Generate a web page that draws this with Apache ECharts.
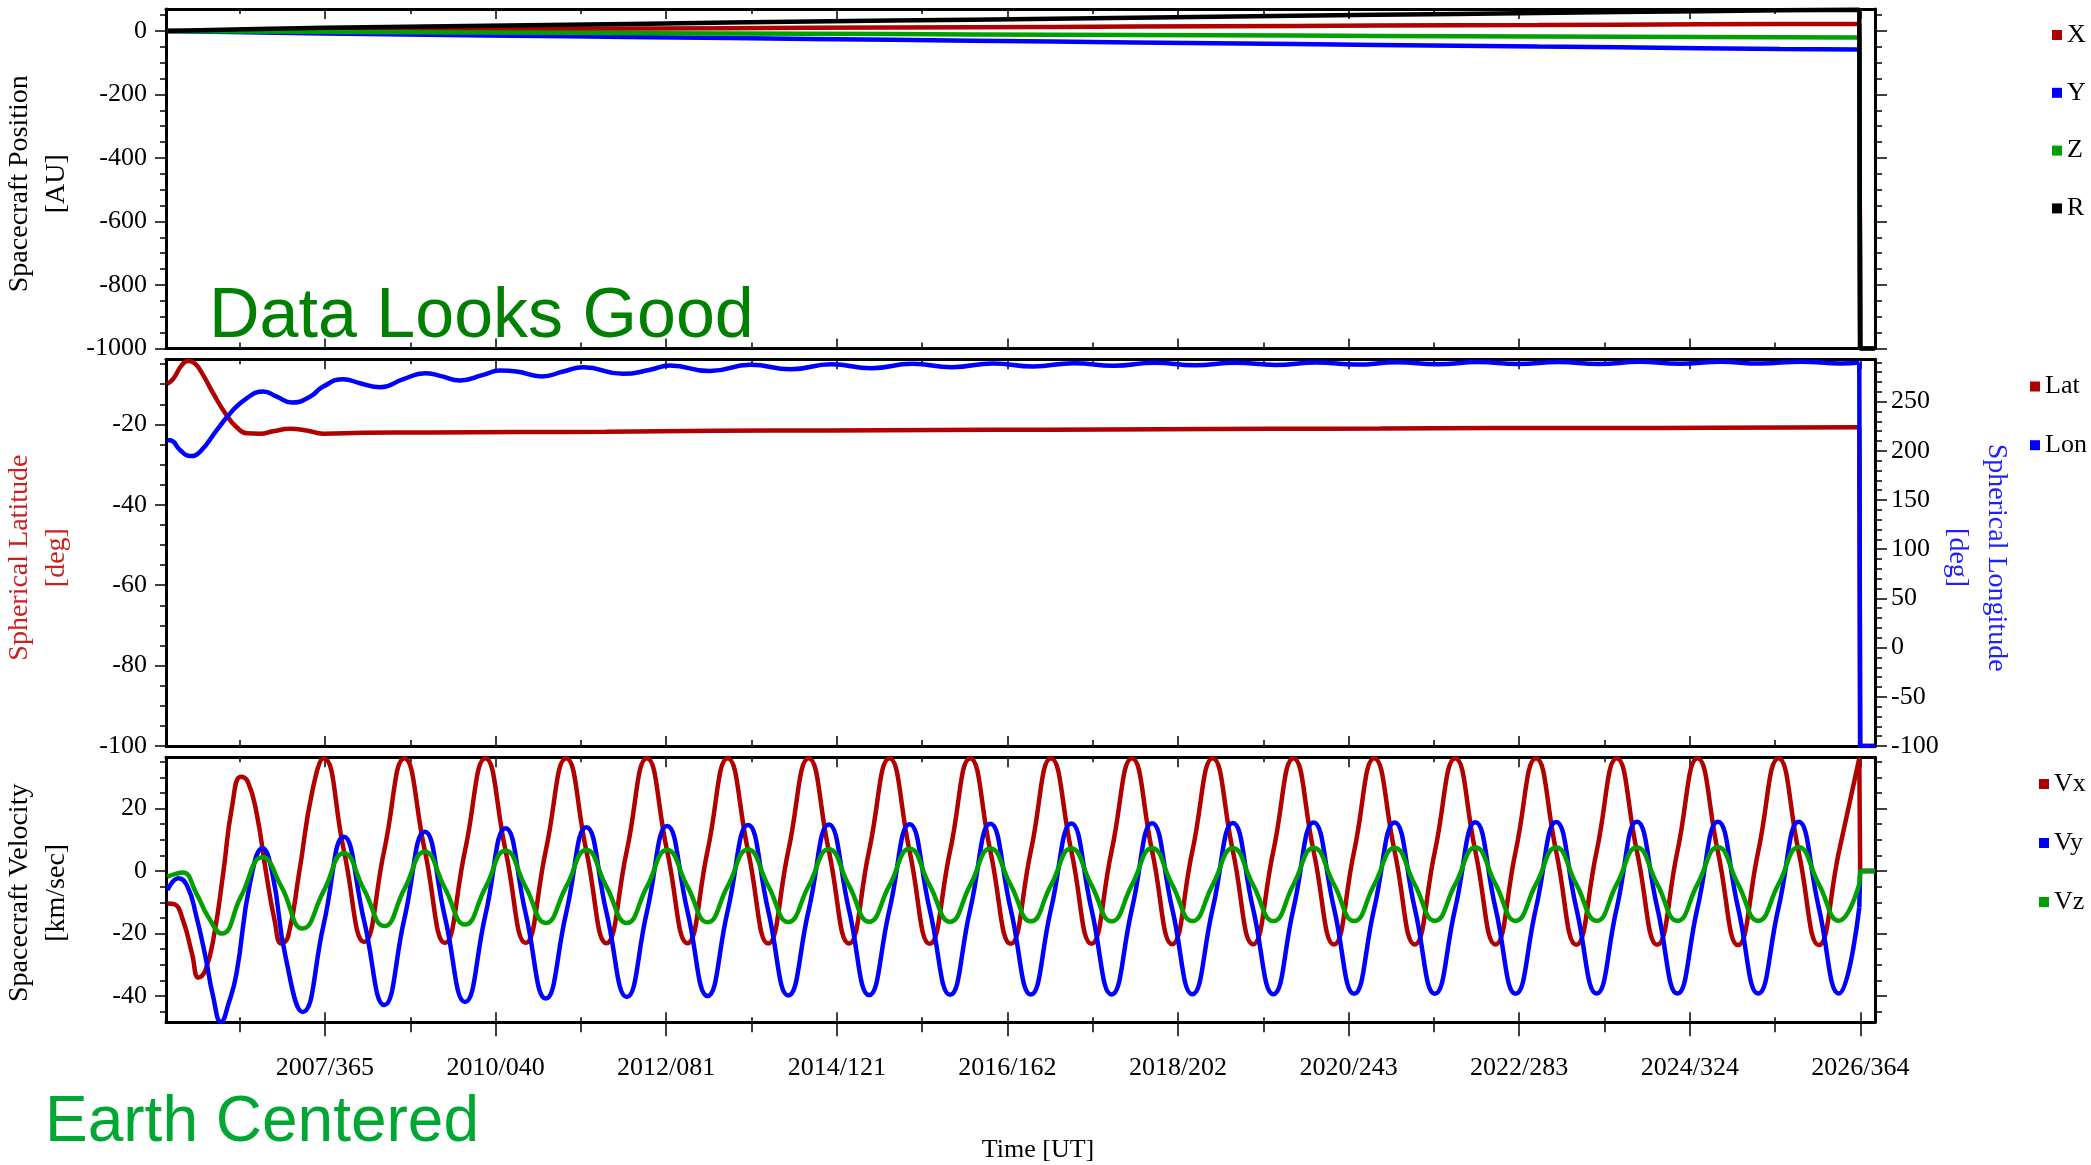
<!DOCTYPE html>
<html><head><meta charset="utf-8">
<script src="https://cdn.jsdelivr.net/npm/echarts@6.0.0/dist/echarts.min.js"></script>
<style>html,body{margin:0;padding:0;background:#fff;}#c{width:2091px;height:1165px;}</style>
</head><body><div id="c"></div>
<script>
// ---------- time axis (days since 2006-01-01) ----------
const timeTickDays = [729, 1500, 2271, 3042, 3813, 4584, 5355, 6126, 6897, 7668];
const timeLabels = ['2007/365','2010/040','2012/081','2014/121','2016/162','2018/202','2020/243','2022/283','2024/324','2026/364'];
const timeMinorDays = [343.5, 1114.5, 1885.5, 2656.5, 3427.5, 4198.5, 4969.5, 5740.5, 6511.5, 7282.5];

// ---------- y tick values ----------
const posTicks = [-1000, -800, -600, -400, -200, 0];
const latTicks = [-100, -80, -60, -40, -20];
const lonTicks = [-100, -50, 0, 50, 100, 150, 200, 250];
const velTicks = [-40, -20, 0, 20];

// ---------- panel 1: position [AU] ----------
const posDays = [17, 365, 730, 1096, 1461, 1826, 2191, 2557, 2922, 3287, 3652, 4018, 4383, 4748, 5113, 5479, 5844, 6209, 6574, 6940, 7305, 7663];
const posX = [0, 1.6, 3.2, 4.3, 5.4, 6.5, 7.6, 8.6, 9.7, 10.7, 11.7, 12.7, 13.7, 14.7, 15.7, 16.7, 17.7, 18.6, 19.6, 20.6, 21.5, 22.1];
const posY = [0, -4.3, -8.4, -11.2, -14.2, -17.1, -19.9, -22.7, -25.5, -28.2, -30.9, -33.6, -36.2, -38.8, -41.4, -44.0, -46.5, -49.2, -51.7, -54.2, -56.7, -58.3];
const posZ = [0, -1.6, -3.0, -4.0, -5.1, -6.1, -7.1, -8.1, -9.1, -10.0, -11.0, -12.0, -12.9, -13.8, -14.8, -15.7, -16.6, -17.5, -18.4, -19.3, -20.2, -21.0];
const posR = [0, 4.9, 9.6, 12.9, 16.3, 19.6, 22.9, 26.1, 29.3, 32.4, 35.5, 38.6, 41.6, 44.6, 47.6, 50.6, 53.5, 56.5, 59.4, 62.3, 65.2, 67.0];
const fillDays = [7667, 7734];
const posFill = [-1000, -1000];

// ---------- panel 2: spherical lat / lon [deg] ----------
const latDays = [17, 44, 81, 111, 142, 179, 224, 285, 330, 375, 435, 495, 571, 646, 721, 900, 1200, 1600, 2000, 2500, 3000, 3500, 4000, 4500, 5000, 5500, 6000, 6500, 7000, 7663];
const latVals = [-9.9, -8.6, -5.3, -4.2, -4.9, -7.8, -12.3, -17.8, -20.7, -22.2, -22.3, -21.7, -21.1, -21.5, -22.3, -22.1, -22.0, -21.9, -21.8, -21.6, -21.5, -21.4, -21.3, -21.2, -21.1, -21.0, -20.9, -20.9, -20.8, -20.7];
const lonDays = [17, 36, 74, 119, 164, 240, 300, 375, 450, 511, 579, 661, 721, 812, 887, 978, 1083, 1181, 1249, 1339, 1444, 1520, 1595, 1708, 1806, 1896, 2077, 2198, 2288, 2468, 2653, 2833, 3018, 3198, 3383, 3563, 3749, 3929, 4114, 4294, 4479, 4659, 4844, 5024, 5210, 5390, 5575, 5755, 5940, 6120, 6305, 6485, 6671, 6851, 7036, 7216, 7401, 7581, 7663];
const lonVals = [211.0, 210.3, 200.8, 194.6, 199.0, 221.0, 238.0, 253.4, 260.2, 255.1, 249.0, 255.0, 265.3, 272.8, 268.7, 264.6, 272.8, 278.9, 276.2, 271.4, 277.2, 281.6, 280.6, 275.5, 280.6, 285.0, 278.2, 282.3, 286.7, 281.0, 287.5, 282.8, 288.0, 284.0, 288.4, 285.0, 288.8, 285.8, 289.1, 286.4, 289.4, 286.9, 289.6, 287.3, 289.8, 287.6, 290.0, 287.9, 290.2, 288.1, 290.3, 288.3, 290.4, 288.5, 290.5, 288.7, 290.6, 288.8, 289.8];
const angFill = [-100, -100];

// ---------- panel 3: velocity [km/sec] ----------
const vxEarlyDays = [17, 47, 87, 128, 158, 189, 229, 269, 309, 349, 380, 420, 461, 501, 532, 562, 612, 673];
const vxEarly = [-10.4, -10.6, -15.7, -26.4, -34.1, -31.7, -20.0, -0.7, 20.6, 30.2, 28.6, 18.5, 0.3, -15.7, -23.2, -21.0, -0.7, 26.0];
const vyEarlyDays = [17, 67, 108, 146, 189, 223, 259, 295, 329, 390, 447, 491, 551, 628];
const vyEarly = [-6.1, -2.3, -5.0, -14.0, -27.5, -40.0, -48.3, -42.0, -32.8, -4.0, 7.3, -0.7, -27.5, -45.1];
const vzEarlyDays = [17, 50, 87, 148, 200, 263, 349, 447, 532, 628];
const vzEarly = [-1.8, -1.0, -0.5, -7.2, -14.5, -20.0, -8.2, 4.4, -5.0, -18.4];
const cycleDays = [723, 814, 906, 997, 1088, 1180, 1271, 1362, 1454, 1545, 1636, 1727, 1819, 1910, 2001, 2093, 2184, 2275, 2367, 2458, 2549, 2641, 2732, 2823, 2915, 3006, 3097, 3188, 3280, 3371, 3462, 3554, 3645, 3736, 3828, 3919, 4010, 4102, 4193, 4284, 4376, 4467, 4558, 4649, 4741, 4832, 4923, 5015, 5106, 5197, 5289, 5380, 5471, 5563, 5654, 5745, 5837, 5928, 6019, 6110, 6202, 6293, 6384, 6476, 6567, 6658, 6750, 6841, 6932, 7024, 7115, 7206, 7298, 7389, 7480, 7571, 7663];
const vxCycle = [
  36.1, 6.7, -22.7, 6.7,  36.1, 6.6, -23.0, 6.6,  36.1, 6.6, -23.0, 6.6,  36.1, 6.5, -23.1, 6.5,
  36.1, 6.5, -23.1, 6.5,  36.1, 6.5, -23.2, 6.5,  36.1, 6.5, -23.2, 6.5,  36.1, 6.4, -23.3, 6.4,
  36.1, 6.4, -23.3, 6.4,  36.1, 6.4, -23.3, 6.4,  36.1, 6.4, -23.4, 6.4,  36.1, 6.4, -23.4, 6.4,
  36.1, 6.3, -23.5, 6.3,  36.1, 6.3, -23.5, 6.3,  36.1, 6.3, -23.5, 6.3,  36.1, 6.3, -23.6, 6.3,
  36.1, 6.3, -23.6, 6.3,  36.1, 6.2, -23.7, 6.2,  36.1, 6.2, -23.7, 6.2,  36.1];
const vyCycle = [
  -17.1, 11.0, -16.0, -42.9,  -15.2, 12.6, -14.7, -41.9,  -14.1, 13.7, -13.6, -40.8,  -13.4, 14.0, -13.2, -40.3,
  -13.0, 14.4, -12.8, -40.0,  -12.7, 14.7, -12.6, -39.8,  -12.5, 14.9, -12.4, -39.7,  -12.4, 15.0, -12.3, -39.6,
  -12.3, 15.1, -12.2, -39.5,  -12.2, 15.2, -12.2, -39.5,  -12.1, 15.3, -12.1, -39.4,  -12.0, 15.4, -12.0, -39.4,
  -12.0, 15.5, -11.9, -39.3,  -11.9, 15.5, -11.9, -39.3,  -11.9, 15.6, -11.9, -39.3,  -11.8, 15.7, -11.8, -39.2,
  -11.8, 15.8, -11.7, -39.2,  -11.7, 15.8, -11.7, -39.2,  -11.7, 15.8, -11.7, -39.2,  -11.7];
const vzCycle = [
  -6.4, 5.7, -6.0, -17.6,  -5.7, 6.2, -5.5, -17.1,  -5.3, 6.5, -5.1, -16.6,  -5.0, 6.7, -5.0, -16.6,
  -5.0, 6.7, -4.9, -16.4,  -4.8, 6.9, -4.7, -16.3,  -4.7, 7.0, -4.6, -16.2,  -4.6, 7.1, -4.6, -16.2,
  -4.5, 7.2, -4.5, -16.1,  -4.5, 7.2, -4.5, -16.1,  -4.4, 7.3, -4.4, -16.0,  -4.4, 7.3, -4.4, -16.0,
  -4.3, 7.4, -4.3, -16.0,  -4.3, 7.4, -4.3, -15.9,  -4.2, 7.5, -4.2, -15.9,  -4.2, 7.5, -4.2, -15.9,
  -4.2, 7.5, -4.2, -15.9,  -4.2, 7.6, -4.2, -15.9,  -4.2, 7.6, -4.2, -15.9,  -4.2];
const velFill = [0, 0];

// ---------- chart construction ----------
const SERIF = '"Liberation Serif", "Times New Roman", serif';
const SANS = '"Liberation Sans", Arial, sans-serif';
const RED = '#b00000', BLUE = '#0000ff', GREEN = '#00a000', BLACK = '#000000';
const X_MIN = 10.5, X_MAX = 7734;

function zip(days, vals) { return days.map((d, i) => [d, vals[i]]); }
function minorOf(major, step, min, max) {
  const out = [];
  for (let v = Math.ceil(min / step) * step; v <= max + 1e-9; v += step) {
    if (!major.some(m => Math.abs(m - v) < 1e-9)) out.push(v);
  }
  return out;
}

const grids = [
  {left: 166, width: 1709, top: 9, height: 339.5, outerBoundsMode: 'none', containLabel: false},
  {left: 166, width: 1709, top: 359.3, height: 386.7, outerBoundsMode: 'none', containLabel: false},
  {left: 166, width: 1709, top: 757.3, height: 265, outerBoundsMode: 'none', containLabel: false}
];

function xAx(g, pos, vals, len, inside, showLine, label) {
  return {
    type: 'value', gridIndex: g, position: pos, min: X_MIN, max: X_MAX,
    axisLine: {show: showLine, onZero: false, lineStyle: {color: '#000', width: 3}},
    axisTick: {show: true, inside: inside, length: len, customValues: vals, lineStyle: {color: '#000', width: 1.5}},
    axisLabel: label ? {
      show: true, customValues: timeTickDays, margin: 33, color: '#000',
      fontFamily: SERIF, fontSize: 26,
      formatter: function (v) {
        const i = timeTickDays.findIndex(d => Math.abs(d - v) < 1e-6);
        return i < 0 ? '' : timeLabels[i];
      }
    } : {show: false},
    splitLine: {show: false}
  };
}

function yAx(g, pos, min, max, vals, len, showLine, label, nameCfg) {
  const a = {
    type: 'value', gridIndex: g, position: pos, min: min, max: max,
    axisLine: {show: showLine, onZero: false, lineStyle: {color: '#000', width: 3}},
    axisTick: {show: true, inside: false, length: len, customValues: vals, lineStyle: {color: '#000', width: 1.5}},
    axisLabel: label ? {
      show: true, customValues: vals, margin: pos === 'left' ? 19 : 16, color: '#000',
      fontFamily: SERIF, fontSize: 26, formatter: v => String(v)
    } : {show: false},
    splitLine: {show: false}
  };
  if (nameCfg) {
    a.name = nameCfg.text;
    a.nameLocation = 'middle';
    a.nameGap = nameCfg.gap;
    a.nameRotate = nameCfg.rotate;
    a.nameMoveOverlap = false;
    a.nameTextStyle = {fontFamily: SERIF, fontSize: 28, lineHeight: nameCfg.lh, color: nameCfg.color, padding: nameCfg.pad};
  }
  return a;
}

const panels = [
  {min: -1000, max: 69, major: posTicks, step: 50,
   name: {text: 'Spacecraft Position\n[AU]', gap: 90.5, rotate: 90, lh: 37, color: '#000', pad: [0, 10, 0, 0]},
   right: {min: -1000, max: 69, major: posTicks, step: 50, label: false}},
  {min: -100, max: -3.8, major: latTicks, step: 5,
   name: {text: 'Spherical Latitude\n[deg]', gap: 90.5, rotate: 90, lh: 37, color: '#cc2020', pad: [0, 10, 0, 0]},
   right: {min: -100, max: 293, major: lonTicks, step: 10, label: true,
           name: {text: 'Spherical Longitude\n[deg]', gap: 62.5, rotate: -90, lh: 39, color: '#2020ff', pad: [0, 0, 0, 10]}}},
  {min: -48.4, max: 36.4, major: velTicks, step: 5,
   name: {text: 'Spacecraft Velocity\n[km/sec]', gap: 90.5, rotate: 90, lh: 37, color: '#000', pad: [0, 6, 0, 0]},
   right: {min: -48.4, max: 36.4, major: velTicks, step: 5, label: false}}
];

const xAxes = [], yAxes = [], mainX = [], mainYL = [], mainYR = [];
for (let g = 0; g < 3; g++) {
  const last = g === 2;
  mainX[g] = xAxes.length;
  xAxes.push(xAx(g, 'bottom', timeTickDays, last ? 14 : 10, !last, true, last));
  xAxes.push(xAx(g, 'bottom', timeMinorDays, last ? 10 : 6, !last, false, false));
  if (last) {
    xAxes.push(xAx(g, 'bottom', timeTickDays, 10, true, false, false));
    xAxes.push(xAx(g, 'bottom', timeMinorDays, 5, true, false, false));
  }
  xAxes.push(xAx(g, 'top', timeTickDays, 10, true, true, false));
  xAxes.push(xAx(g, 'top', timeMinorDays, 5, true, false, false));

  const p = panels[g];
  mainYL[g] = yAxes.length;
  yAxes.push(yAx(g, 'left', p.min, p.max, p.major, 11, true, true, p.name));
  yAxes.push(yAx(g, 'left', p.min, p.max, minorOf(p.major, p.step, p.min, p.max), 6, false, false, null));
  const r = p.right;
  mainYR[g] = yAxes.length;
  yAxes.push(yAx(g, 'right', r.min, r.max, r.major, 12, true, r.label, r.name || null));
  yAxes.push(yAx(g, 'right', r.min, r.max, minorOf(r.major, r.step, r.min, r.max), 7, false, false, null));
}

function line(name, g, yi, data, color, smooth) {
  return {
    type: 'line', name: name, xAxisIndex: mainX[g], yAxisIndex: yi, data: data,
    smooth: smooth, symbol: 'none', showSymbol: false, clip: true, silent: true,
    lineStyle: {color: color, width: 4.5}, itemStyle: {color: color},
    emphasis: {disabled: true}, animation: false
  };
}
function tail(lastDay, lastVal, fill) {
  return [[lastDay, lastVal]].concat(zip(fillDays, fill));
}

const vxDays = vxEarlyDays.concat(cycleDays), vxVals = vxEarly.concat(vxCycle);
const vyDays = vyEarlyDays.concat(cycleDays), vyVals = vyEarly.concat(vyCycle);
const vzDays = vzEarlyDays.concat(cycleDays), vzVals = vzEarly.concat(vzCycle);
const lastOf = a => a[a.length - 1];

const series = [
  line('X', 0, mainYL[0], zip(posDays, posX).concat(zip(fillDays, posFill)), RED, false),
  line('Y', 0, mainYL[0], zip(posDays, posY).concat(zip(fillDays, posFill)), BLUE, false),
  line('Z', 0, mainYL[0], zip(posDays, posZ).concat(zip(fillDays, posFill)), GREEN, false),
  line('R', 0, mainYL[0], zip(posDays, posR).concat(zip(fillDays, posFill)), BLACK, false),

  line('Lat', 1, mainYL[1], zip(latDays, latVals), RED, 0.5),
  line('Lat', 1, mainYL[1], tail(lastOf(latDays), lastOf(latVals), angFill), RED, false),
  line('Lon', 1, mainYR[1], zip(lonDays, lonVals), BLUE, 0.5),
  line('Lon', 1, mainYR[1], tail(lastOf(lonDays), lastOf(lonVals), angFill), BLUE, false),

  line('Vx', 2, mainYL[2], zip(vxDays, vxVals), RED, 0.5),
  line('Vx', 2, mainYL[2], tail(lastOf(vxDays), lastOf(vxVals), velFill), RED, false),
  line('Vy', 2, mainYL[2], zip(vyDays, vyVals), BLUE, 0.5),
  line('Vy', 2, mainYL[2], tail(lastOf(vyDays), lastOf(vyVals), velFill), BLUE, false),
  line('Vz', 2, mainYL[2], zip(vzDays, vzVals), GREEN, 0.5),
  line('Vz', 2, mainYL[2], tail(lastOf(vzDays), lastOf(vzVals), velFill), GREEN, false)
];

function legend(names, left, top, gap) {
  return {
    data: names, orient: 'vertical', left: left, top: top, padding: 0,
    itemWidth: 10, itemHeight: 10, itemGap: gap, icon: 'rect', selectedMode: false,
    textStyle: {fontFamily: SERIF, fontSize: 26, lineHeight: 26, color: '#000'}
  };
}

const chart = echarts.init(document.getElementById('c'), null, {renderer: 'canvas', width: 2091, height: 1165});
chart.setOption({
  animation: false,
  backgroundColor: '#ffffff',
  grid: grids,
  xAxis: xAxes,
  yAxis: yAxes,
  legend: [
    legend(['X', 'Y', 'Z', 'R'], 2052, 22, 31.8),
    legend(['Lat', 'Lon'], 2030, 373.5, 32.7),
    legend(['Vx', 'Vy', 'Vz'], 2039, 771, 33)
  ],
  series: series,
  graphic: [
    {type: 'text', x: 209, y: 318, silent: true, z: 100,
     style: {text: 'Data Looks Good', fill: '#008000', font: '70px ' + SANS, align: 'left', verticalAlign: 'middle', textAlign: 'left', textVerticalAlign: 'middle'}},
    {type: 'text', x: 45, y: 1123, silent: true, z: 100,
     style: {text: 'Earth Centered', fill: '#00a833', font: '64px ' + SANS, align: 'left', verticalAlign: 'middle', textAlign: 'left', textVerticalAlign: 'middle'}},
    {type: 'text', x: 1038, y: 1150, silent: true, z: 100,
     style: {text: 'Time [UT]', fill: '#000', font: '26px ' + SERIF, align: 'center', verticalAlign: 'middle', textAlign: 'center', textVerticalAlign: 'middle'}}
  ]
});
</script></body></html>
